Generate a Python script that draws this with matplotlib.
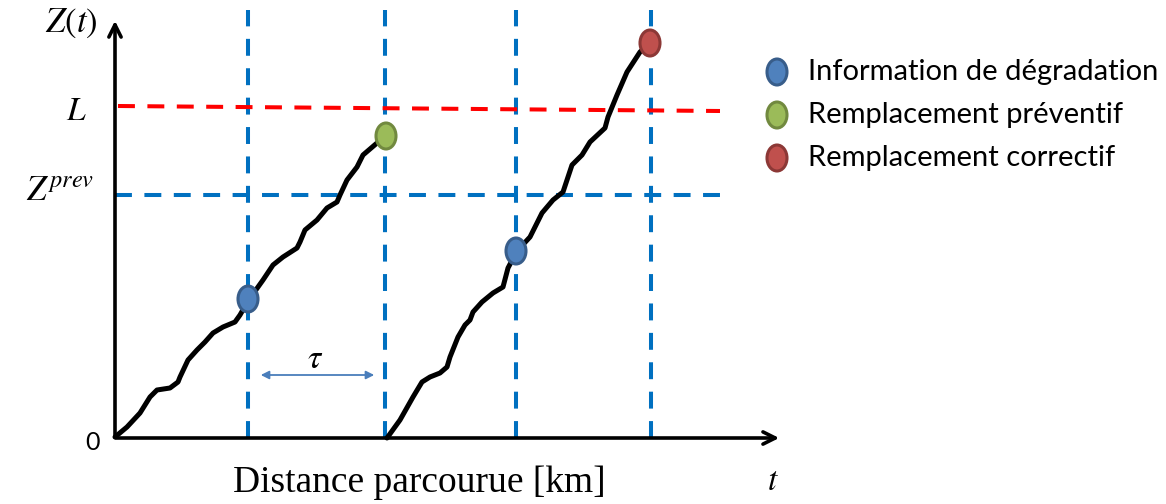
import matplotlib.pyplot as plt
from matplotlib.patches import Ellipse

# trajectoires de dégradation (distance, niveau)
t1 = [0, 12, 25, 35, 42, 55, 63, 65, 73, 82, 90, 98, 108, 120, 125, 133, 148, 158, 168,
      182, 185, 190, 202, 212, 222, 225, 232, 242, 248, 262, 270]
z1 = [1, 11, 25, 41, 48, 50, 56, 61, 78, 88, 96, 105, 111, 116, 123, 137, 158, 173, 181,
      190, 196, 208, 218, 230, 236, 243, 258, 271, 283, 295, 301]
t2 = [272, 285, 298, 307, 315, 325, 332, 335, 343, 350, 355, 358, 367, 378, 388, 393, 402,
      415, 427, 438, 448, 453, 457, 467, 475, 490, 493, 502, 512, 525, 535]
z2 = [0, 18, 41, 56, 61, 65, 71, 81, 101, 113, 118, 126, 136, 145, 151, 170, 187, 201,
      225, 238, 246, 261, 273, 283, 296, 310, 321, 343, 366, 386, 395]

inspections = [133, 270, 401, 536]
L_niveau = [332, 327]
Z_prev = 243

evt_t = [133, 401, 271, 535]
evt_z = [139, 187, 302, 395]
evt_type = ['info', 'info', 'prev', 'corr']

couleurs = {'info': ('#4F81BD', '#385D8A'),
            'prev': ('#9BBB59', '#71893F'),
            'corr': ('#C0504D', '#8C3836')}
legende = [('info', 'Information de dégradation'),
           ('prev', 'Remplacement préventif'),
           ('corr', 'Remplacement correctif')]

plt.rcParams['mathtext.fontset'] = 'stix'

fig = plt.figure(figsize=(11.66, 5.04), dpi=100)
ax = fig.add_axes([0, 0, 1, 1])
ax.set_xlim(-115, 1051)
ax.set_ylim(-66, 438)
ax.axis('off')

bleu = '#0070C0'
tirets = (0, (4.2, 3.1))
for t in inspections:
    ax.plot([t, t], [0, 428], color=bleu, lw=2.9, ls=tirets, zorder=1)
ax.plot([0, 605], [Z_prev, Z_prev], color=bleu, lw=2.9, ls=tirets, zorder=1)
ax.plot([3, 605], L_niveau, color='#FF0000', lw=2.9, ls=tirets, zorder=1)

ax.plot(t1, z1, color='black', lw=3.6, solid_joinstyle='round', solid_capstyle='round', zorder=3)
ax.plot(t2, z2, color='black', lw=3.6, solid_joinstyle='round', solid_capstyle='round', zorder=3)

for t, z, k in zip(evt_t, evt_z, evt_type):
    fc, ec = couleurs[k]
    ax.add_patch(Ellipse((t, z), 20, 26, facecolor=fc, edgecolor=ec, lw=2.2, zorder=4))

# axes
ax.annotate('', xy=(0, 420), xytext=(0, -2),
            arrowprops=dict(arrowstyle='->', lw=2.6, color='black', mutation_scale=22))
ax.annotate('', xy=(667, 0), xytext=(-2, 0),
            arrowprops=dict(arrowstyle='->', lw=2.6, color='black', mutation_scale=22))

# tau
ax.annotate('', xy=(262, 63), xytext=(143, 63),
            arrowprops=dict(arrowstyle='<|-|>', lw=1.3, color='#4A7EBB', mutation_scale=12))
ax.text(200, 80, r'$\tau$', fontsize=24, ha='center', va='center')

ax.text(-44, 415, r'$Z(t)$', fontsize=25, ha='center', va='center')
ax.text(-39, 328, r'$L$', fontsize=24, ha='center', va='center')
ax.text(-55, 248, r'$Z^{prev}$', fontsize=25, ha='center', va='center')
ax.text(-23, -4, '0', fontsize=18, ha='center', va='center', family='Lato')
ax.text(658, -42, r'$t$', fontsize=24, ha='center', va='center')
ax.text(304, -45, 'Distance parcourue [km]', fontsize=27, ha='center', va='center',
        family='Liberation Serif')

for i, (k, lab) in enumerate(legende):
    y = 366 - i * 43
    fc, ec = couleurs[k]
    ax.add_patch(Ellipse((662, y), 20, 26, facecolor=fc, edgecolor=ec, lw=2.2, zorder=4))
    ax.text(693, y, lab, fontsize=21, ha='left', va='center', family='Lato')

fig.savefig('out.png', dpi=100)
